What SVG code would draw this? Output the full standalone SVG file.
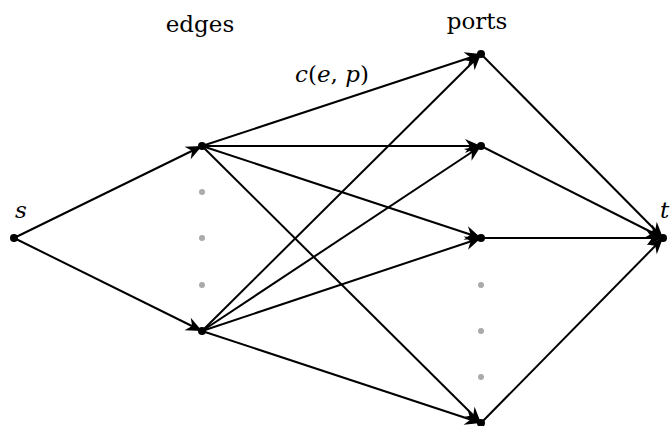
<svg xmlns="http://www.w3.org/2000/svg" width="670" height="426" viewBox="0 0 670 426">
<style>
.e{stroke:#000;stroke-width:2;fill:none;marker-end:url(#ar)}
.n{fill:#000}
.g{fill:#aaa}
text{font-family:'DejaVu Serif',serif;font-size:23px;fill:#000}
.i{font-style:italic}
</style>
<defs>
<marker id="ar" viewBox="-18 -9 20 18" refX="0" refY="0" markerWidth="20" markerHeight="18" markerUnits="userSpaceOnUse" orient="auto">
<path d="M 0 0 L -16 -7 L -11 0 L -16 7 Z" fill="#000"/>
</marker>
</defs>
<rect width="670" height="426" fill="#fff"/>
<g id="connectors">
<line class="e" x1="14" y1="238" x2="202" y2="146"/>
<line class="e" x1="14" y1="238" x2="202" y2="331"/>
<line class="e" x1="202" y1="146" x2="481" y2="54"/>
<line class="e" x1="202" y1="146" x2="481" y2="146"/>
<line class="e" x1="202" y1="146" x2="481" y2="238"/>
<line class="e" x1="202" y1="146" x2="481" y2="423"/>
<line class="e" x1="202" y1="331" x2="481" y2="54"/>
<line class="e" x1="202" y1="331" x2="481" y2="146"/>
<line class="e" x1="202" y1="331" x2="481" y2="238"/>
<line class="e" x1="202" y1="331" x2="481" y2="423"/>
<line class="e" x1="481" y1="54" x2="663" y2="238"/>
<line class="e" x1="481" y1="146" x2="663" y2="238"/>
<line class="e" x1="481" y1="238" x2="663" y2="238"/>
<line class="e" x1="481" y1="423" x2="663" y2="238"/>
</g>
<g id="node-s"><circle class="n" cx="14" cy="238" r="4"/><text class="i" x="21" y="218" text-anchor="middle">s</text></g>
<g id="node-e1"><circle class="n" cx="202" cy="146" r="4"/></g>
<g id="node-e2"><circle class="n" cx="202" cy="331" r="4"/></g>
<g id="edge-dots"><circle class="g" cx="202" cy="192" r="3"/><circle class="g" cx="202" cy="238" r="3"/><circle class="g" cx="202" cy="285" r="3"/></g>
<g id="node-p1"><circle class="n" cx="481" cy="54" r="4"/></g>
<g id="node-p2"><circle class="n" cx="481" cy="146" r="4"/></g>
<g id="node-p3"><circle class="n" cx="481" cy="238" r="4"/></g>
<g id="node-p4"><circle class="n" cx="481" cy="423" r="4"/></g>
<g id="port-dots"><circle class="g" cx="481" cy="285" r="3"/><circle class="g" cx="481" cy="331" r="3"/><circle class="g" cx="481" cy="377" r="3"/></g>
<g id="node-t"><circle class="n" cx="663" cy="238" r="4"/><text class="i" x="660" y="218">t</text></g>
<g id="labels">
<text x="200" y="32" text-anchor="middle">edges</text>
<text x="477" y="29" text-anchor="middle">ports</text>
<text x="332" y="82" text-anchor="middle"><tspan class="i">c</tspan>(<tspan class="i">e</tspan>, <tspan class="i">p</tspan>)</text>
</g>
</svg>
